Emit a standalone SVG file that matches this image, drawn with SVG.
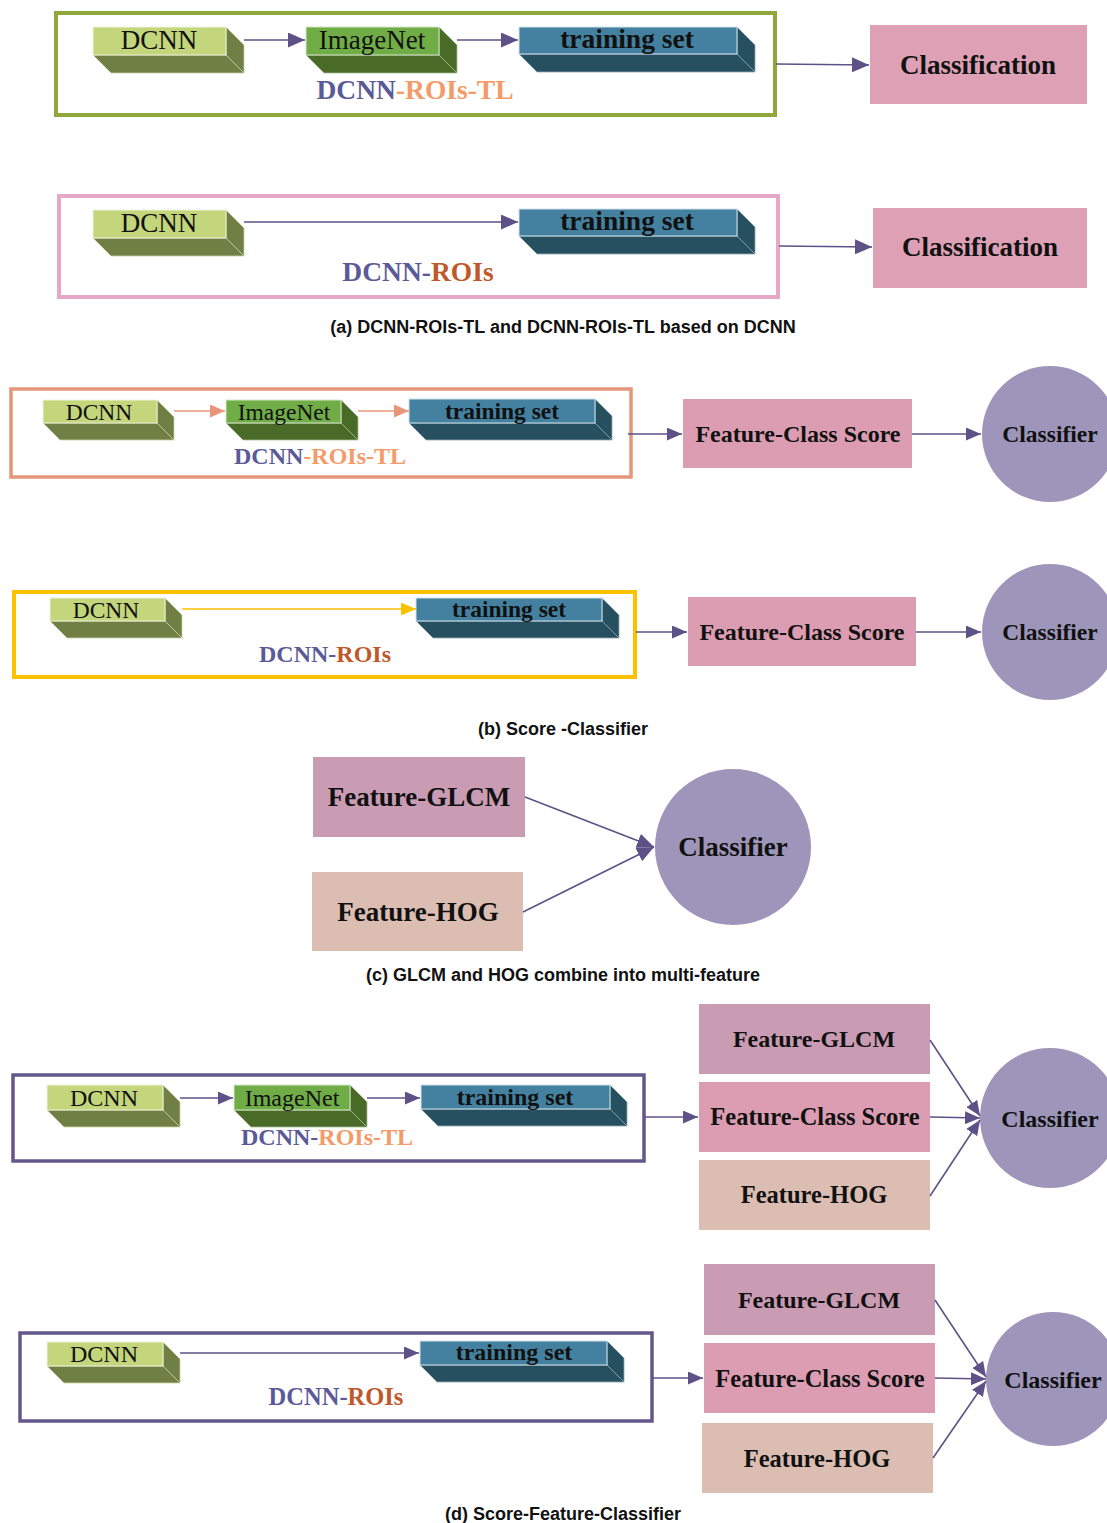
<svg xmlns="http://www.w3.org/2000/svg" width="1107" height="1523" viewBox="0 0 1107 1523">
<style>
text{font-family:"Liberation Serif","Times New Roman",serif;fill:#111;text-anchor:middle}
.b{font-weight:bold}
.cap{font-family:"Liberation Sans",Arial,sans-serif;font-weight:bold;font-size:18px;fill:#111}
.frame{fill:none}
.edge{stroke:#5c5287;stroke-width:1.6;fill:none}
.dc-f{fill:#c3d67b;stroke:#eef3dc;stroke-width:1}
.dc-d{fill:#707f43;stroke:#c9d3a8;stroke-width:0.8}
.im-f{fill:#70ad47;stroke:#d6e8c8;stroke-width:1}
.im-d{fill:#4a6a28;stroke:#a7bb92;stroke-width:0.8}
.ts-f{fill:#4481a0;stroke:#d2e2ea;stroke-width:1}
.ts-d{fill:#264f60;stroke:#8fa8b3;stroke-width:0.8}
.pur{fill:#5b5a98}
.org{fill:#f49b6a}
.brn{fill:#c0592a}
.cls{fill:#dea0b4}
.fcs{fill:#dc9db2}
.glcm{fill:#c99cb4}
.hog{fill:#dbbdb1}
.circ{fill:#9e96ba}
</style>
<defs>
<marker id="ah" markerUnits="userSpaceOnUse" markerWidth="17" markerHeight="15" refX="17" refY="7.5" orient="auto"><path d="M0,0 L17,7.5 L0,15 Z" fill="#5c5287"/></marker>
<marker id="ahs" markerUnits="userSpaceOnUse" markerWidth="15" markerHeight="13" refX="15" refY="6.5" orient="auto"><path d="M0,0 L15,6.5 L0,13 Z" fill="#5c5287"/></marker>
<marker id="aho" markerUnits="userSpaceOnUse" markerWidth="15" markerHeight="13" refX="15" refY="6.5" orient="auto"><path d="M0,0 L15,6.5 L0,13 Z" fill="#e8967a"/></marker>
<marker id="ahy" markerUnits="userSpaceOnUse" markerWidth="15" markerHeight="13" refX="15" refY="6.5" orient="auto"><path d="M0,0 L15,6.5 L0,13 Z" fill="#ffc000"/></marker>
</defs>

<!-- (a) row 1 -->
<rect class="frame" x="56" y="13" width="719" height="102" stroke="#8fa83c" stroke-width="4"/>
<g id="a1-dcnn">
<polygon class="dc-d" points="226,27 244,45 244,73 226,55"/>
<polygon class="dc-d" points="93,55 226,55 244,73 111,73"/>
<rect class="dc-f" x="93" y="27" width="133" height="28"/>
<text x="159" y="49" font-size="27">DCNN</text>
</g>
<g id="a1-imagenet">
<polygon class="im-d" points="439,27 457,45 457,73 439,55"/>
<polygon class="im-d" points="306,55 439,55 457,73 324,73"/>
<rect class="im-f" x="306" y="27" width="133" height="28"/>
<text x="372" y="49" font-size="27">ImageNet</text>
</g>
<g id="a1-training">
<polygon class="ts-d" points="737,27 755,45 755,72 737,54"/>
<polygon class="ts-d" points="519,54 737,54 755,72 537,72"/>
<rect class="ts-f" x="519" y="27" width="218" height="27"/>
<text class="b" x="627" y="48" font-size="27.5">training set</text>
</g>
<text class="b" x="415" y="99" font-size="27.5"><tspan class="pur">DCNN</tspan><tspan class="org">-ROIs-TL</tspan></text>
<g id="a1-classification">
<rect class="cls" x="870" y="25" width="217" height="79"/>
<text class="b" x="978" y="74" font-size="27">Classification</text>
</g>

<!-- (a) row 2 -->
<rect class="frame" x="59" y="196" width="719" height="101" stroke="#e6a8c6" stroke-width="4"/>
<g id="a2-dcnn">
<polygon class="dc-d" points="226,210 244,228 244,256 226,238"/>
<polygon class="dc-d" points="93,238 226,238 244,256 111,256"/>
<rect class="dc-f" x="93" y="210" width="133" height="28"/>
<text x="159" y="232" font-size="27">DCNN</text>
</g>
<g id="a2-training">
<polygon class="ts-d" points="737,209 755,227 755,254 737,236"/>
<polygon class="ts-d" points="519,236 737,236 755,254 537,254"/>
<rect class="ts-f" x="519" y="209" width="218" height="27"/>
<text class="b" x="627" y="230" font-size="27.5">training set</text>
</g>
<text class="b" x="418" y="281" font-size="27.5"><tspan class="pur">DCNN-</tspan><tspan class="brn">ROIs</tspan></text>
<g id="a2-classification">
<rect class="cls" x="873" y="208" width="214" height="80"/>
<text class="b" x="980" y="256" font-size="27">Classification</text>
</g>
<text class="cap" x="563" y="333">(a) DCNN-ROIs-TL and DCNN-ROIs-TL based on DCNN</text>

<!-- (b) row 1 -->
<rect class="frame" x="11" y="389" width="620" height="88" stroke="#e4977a" stroke-width="3.5"/>
<g id="b1-dcnn">
<polygon class="dc-d" points="157,400 174,417 174,440 157,423"/>
<polygon class="dc-d" points="43,423 157,423 174,440 60,440"/>
<rect class="dc-f" x="43" y="400" width="114" height="23"/>
<text x="99" y="420" font-size="23.5">DCNN</text>
</g>
<g id="b1-imagenet">
<polygon class="im-d" points="341,400 358,417 358,440 341,423"/>
<polygon class="im-d" points="226,423 341,423 358,440 243,440"/>
<rect class="im-f" x="226" y="400" width="115" height="23" stroke="#e8967a"/>
<text x="284" y="420" font-size="23.5">ImageNet</text>
</g>
<g id="b1-training">
<polygon class="ts-d" points="595,399 612,416 612,440 595,423"/>
<polygon class="ts-d" points="409,423 595,423 612,440 426,440"/>
<rect class="ts-f" x="409" y="399" width="186" height="24" stroke="#e8967a" stroke-width="1.5"/>
<text class="b" x="502" y="419" font-size="23.5">training set</text>
</g>
<text class="b" x="320" y="464" font-size="24"><tspan class="pur">DCNN</tspan><tspan class="org">-ROIs-TL</tspan></text>
<g id="b1-fcs">
<rect class="fcs" x="683" y="399" width="229" height="69"/>
<text class="b" x="798" y="442" font-size="24">Feature-Class Score</text>
</g>
<g id="b1-classifier">
<circle class="circ" cx="1050" cy="434" r="68"/>
<text class="b" x="1050" y="442" font-size="23.5">Classifier</text>
</g>

<!-- (b) row 2 -->
<rect class="frame" x="14" y="592" width="621" height="85" stroke="#ffc000" stroke-width="4"/>
<g id="b2-dcnn">
<polygon class="dc-d" points="165,598 182,615 182,638 165,621"/>
<polygon class="dc-d" points="50,621 165,621 182,638 67,638"/>
<rect class="dc-f" x="50" y="598" width="115" height="23"/>
<text x="106" y="618" font-size="23.5">DCNN</text>
</g>
<g id="b2-training">
<polygon class="ts-d" points="602,598 619,615 619,638 602,621"/>
<polygon class="ts-d" points="416,621 602,621 619,638 433,638"/>
<rect class="ts-f" x="416" y="598" width="186" height="23" stroke="#ffc000" stroke-width="1.5"/>
<text class="b" x="509" y="617" font-size="23.5">training set</text>
</g>
<text class="b" x="325" y="662" font-size="24"><tspan class="pur">DCNN-</tspan><tspan class="brn">ROIs</tspan></text>
<g id="b2-fcs">
<rect class="fcs" x="688" y="597" width="228" height="69"/>
<text class="b" x="802" y="640" font-size="24">Feature-Class Score</text>
</g>
<g id="b2-classifier">
<circle class="circ" cx="1050" cy="632" r="68"/>
<text class="b" x="1050" y="640" font-size="23.5">Classifier</text>
</g>
<text class="cap" x="563" y="735">(b) Score -Classifier</text>

<!-- (c) -->
<g id="c-glcm">
<rect class="glcm" x="313" y="757" width="212" height="80"/>
<text class="b" x="419" y="806" font-size="27">Feature-GLCM</text>
</g>
<g id="c-hog">
<rect class="hog" x="312" y="872" width="211" height="79"/>
<text class="b" x="418" y="921" font-size="27">Feature-HOG</text>
</g>
<g id="c-classifier">
<circle class="circ" cx="733" cy="847" r="78"/>
<text class="b" x="733" y="856" font-size="27">Classifier</text>
</g>
<text class="cap" x="563" y="981">(c) GLCM and HOG combine into multi-feature</text>

<!-- (d) row 1 -->
<rect class="frame" x="13" y="1075" width="631" height="86" stroke="#62578a" stroke-width="3.5"/>
<g id="d1-dcnn">
<polygon class="dc-d" points="163,1085 180,1102 180,1127 163,1110"/>
<polygon class="dc-d" points="47,1110 163,1110 180,1127 64,1127"/>
<rect class="dc-f" x="47" y="1085" width="116" height="25"/>
<text x="104" y="1106" font-size="24">DCNN</text>
</g>
<g id="d1-imagenet">
<polygon class="im-d" points="350,1085 367,1102 367,1127 350,1110"/>
<polygon class="im-d" points="234,1110 350,1110 367,1127 251,1127"/>
<rect class="im-f" x="234" y="1085" width="116" height="25"/>
<text x="292" y="1106" font-size="24">ImageNet</text>
</g>
<g id="d1-training">
<polygon class="ts-d" points="610,1085 627,1102 627,1126 610,1109"/>
<polygon class="ts-d" points="421,1109 610,1109 627,1126 438,1126"/>
<rect class="ts-f" x="421" y="1085" width="189" height="24"/>
<text class="b" x="515" y="1105" font-size="24">training set</text>
</g>
<text class="b" x="327" y="1145" font-size="24"><tspan class="pur">DCNN-</tspan><tspan class="org">ROIs-TL</tspan></text>
<g id="d1-glcm">
<rect class="glcm" x="699" y="1004" width="231" height="70"/>
<text class="b" x="814" y="1047" font-size="24">Feature-GLCM</text>
</g>
<g id="d1-fcs">
<rect class="fcs" x="699" y="1082" width="231" height="70"/>
<text class="b" x="815" y="1125" font-size="24.5">Feature-Class Score</text>
</g>
<g id="d1-hog">
<rect class="hog" x="699" y="1160" width="231" height="70"/>
<text class="b" x="814" y="1203" font-size="24.5">Feature-HOG</text>
</g>
<g id="d1-classifier">
<circle class="circ" cx="1050" cy="1118" r="70"/>
<text class="b" x="1050" y="1127" font-size="24">Classifier</text>
</g>

<!-- (d) row 2 -->
<rect class="frame" x="20" y="1333" width="632" height="88" stroke="#62578a" stroke-width="3.5"/>
<g id="d2-dcnn">
<polygon class="dc-d" points="163,1342 180,1359 180,1383 163,1366"/>
<polygon class="dc-d" points="47,1366 163,1366 180,1383 64,1383"/>
<rect class="dc-f" x="47" y="1342" width="116" height="24"/>
<text x="104" y="1362" font-size="24">DCNN</text>
</g>
<g id="d2-training">
<polygon class="ts-d" points="607,1341 624,1358 624,1382 607,1365"/>
<polygon class="ts-d" points="420,1365 607,1365 624,1382 437,1382"/>
<rect class="ts-f" x="420" y="1341" width="187" height="24"/>
<text class="b" x="514" y="1360" font-size="24">training set</text>
</g>
<text class="b" x="336" y="1405" font-size="24.5"><tspan class="pur">DCNN-</tspan><tspan class="brn">ROIs</tspan></text>
<g id="d2-glcm">
<rect class="glcm" x="704" y="1264" width="231" height="71"/>
<text class="b" x="819" y="1308" font-size="24">Feature-GLCM</text>
</g>
<g id="d2-fcs">
<rect class="fcs" x="704" y="1343" width="231" height="70"/>
<text class="b" x="820" y="1387" font-size="24.5">Feature-Class Score</text>
</g>
<g id="d2-hog">
<rect class="hog" x="702" y="1423" width="231" height="70"/>
<text class="b" x="817" y="1467" font-size="24.5">Feature-HOG</text>
</g>
<g id="d2-classifier">
<circle class="circ" cx="1053" cy="1379" r="67"/>
<text class="b" x="1053" y="1388" font-size="24">Classifier</text>
</g>
<text class="cap" x="563" y="1520">(d) Score-Feature-Classifier</text>

<!-- connectors -->
<g id="connectors">
<line class="edge" x1="244" y1="40" x2="305" y2="40" marker-end="url(#ah)"/>
<line class="edge" x1="457" y1="40" x2="518" y2="40" marker-end="url(#ah)"/>
<line class="edge" x1="776" y1="64" x2="869" y2="65" marker-end="url(#ah)"/>
<line class="edge" x1="244" y1="222" x2="518" y2="222" marker-end="url(#ah)"/>
<line class="edge" x1="779" y1="246" x2="872" y2="247" marker-end="url(#ah)"/>

<line x1="174" y1="411" x2="225" y2="411" stroke="#e8967a" stroke-width="1.6" marker-end="url(#aho)"/>
<line x1="358" y1="411" x2="409" y2="411" stroke="#e8967a" stroke-width="1.6" marker-end="url(#aho)"/>
<line class="edge" x1="628" y1="434" x2="682" y2="434" marker-end="url(#ahs)"/>
<line class="edge" x1="912" y1="434" x2="981" y2="434" marker-end="url(#ahs)"/>

<line x1="182" y1="609" x2="416" y2="609" stroke="#ffc000" stroke-width="1.6" marker-end="url(#ahy)"/>
<line class="edge" x1="636" y1="632" x2="687" y2="632" marker-end="url(#ahs)"/>
<line class="edge" x1="916" y1="632" x2="981" y2="632" marker-end="url(#ahs)"/>

<line class="edge" x1="525" y1="797" x2="654" y2="847" marker-end="url(#ah)"/>
<line class="edge" x1="523" y1="912" x2="654" y2="847" marker-end="url(#ah)"/>

<line class="edge" x1="180" y1="1098" x2="233" y2="1098" marker-end="url(#ahs)"/>
<line class="edge" x1="367" y1="1098" x2="420" y2="1098" marker-end="url(#ahs)"/>
<line class="edge" x1="645" y1="1117" x2="698" y2="1117" marker-end="url(#ahs)"/>
<line class="edge" x1="930" y1="1040" x2="980" y2="1116" marker-end="url(#ahs)"/>
<line class="edge" x1="930" y1="1117" x2="980" y2="1118" marker-end="url(#ahs)"/>
<line class="edge" x1="930" y1="1196" x2="980" y2="1120" marker-end="url(#ahs)"/>

<line class="edge" x1="180" y1="1353" x2="419" y2="1353" marker-end="url(#ahs)"/>
<line class="edge" x1="652" y1="1378" x2="703" y2="1378" marker-end="url(#ahs)"/>
<line class="edge" x1="935" y1="1300" x2="986" y2="1377" marker-end="url(#ahs)"/>
<line class="edge" x1="935" y1="1378" x2="986" y2="1379" marker-end="url(#ahs)"/>
<line class="edge" x1="933" y1="1458" x2="986" y2="1381" marker-end="url(#ahs)"/>
</g>
</svg>
